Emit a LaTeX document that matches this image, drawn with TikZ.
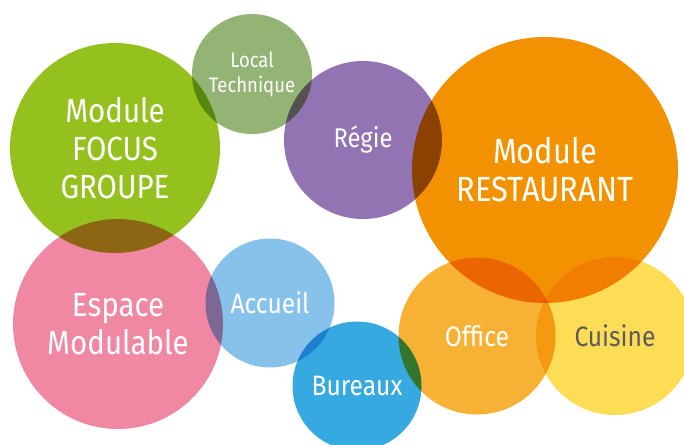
\documentclass[tikz,border=0pt]{standalone}
\usepackage{fontspec}
\setmainfont{Fira Sans}[FakeStretch=0.88]
\usepackage{xcolor}
\definecolor{vertFG}{HTML}{95C11F}
\definecolor{vertLT}{HTML}{93B475}
\definecolor{violetRG}{HTML}{9274B2}
\definecolor{orangeMR}{HTML}{F39200}
\definecolor{roseEM}{HTML}{F087A3}
\definecolor{bleuAC}{HTML}{86C2EA}
\definecolor{bleuBU}{HTML}{36A9E1}
\definecolor{orangeOF}{HTML}{F7B134}
\definecolor{jauneCU}{HTML}{FEDD56}
\definecolor{grisCU}{HTML}{5B5B5B}
\tikzset{
  bulle/.style={circle,inner sep=0pt,minimum size=#1},
  texte/.style={text=white,align=center,inner sep=0pt,
    font=\fontsize{28}{33}\selectfont},
  grand/.style={font=\fontsize{33.5}{38}\selectfont}
}
\begin{document}
\begin{tikzpicture}[x=1pt,y=-1pt]
  \useasboundingbox (0,0) rectangle (684,444);
  \clip (0,0) rectangle (684,444);
  % fixed points
  \coordinate (FG) at (115,148);
  \coordinate (LT) at (252,74);
  \coordinate (RG) at (363,140);
  \coordinate (MR) at (545,170);
  \coordinate (EM) at (118,324);
  \coordinate (AC) at (270,303);
  \coordinate (BU) at (357,386);
  \coordinate (OF) at (477,336);
  \coordinate (CU) at (615,336);
  % drawings
  \begin{scope}[blend group=multiply]
    \node[bulle=210pt,fill=vertFG] (cFG) at (FG) {};
    \node[bulle=120pt,fill=vertLT] (cLT) at (LT) {};
    \node[bulle=158pt,fill=violetRG] (cRG) at (RG) {};
    \node[bulle=266pt,fill=orangeMR] (cMR) at (MR) {};
    \node[bulle=210pt,fill=roseEM] (cEM) at (EM) {};
    \node[bulle=129pt,fill=bleuAC] (cAC) at (AC) {};
    \node[bulle=129pt,fill=bleuBU] (cBU) at (BU) {};
    \node[bulle=157pt,fill=orangeOF] (cOF) at (OF) {};
    \node[bulle=158pt,fill=jauneCU] (cCU) at (CU) {};
  \end{scope}
  % labelling
  \node[texte,grand] (tFG) at (FG) {Module\\FOCUS\\GROUPE};
  \node[texte,font=\fontsize{21}{25}\selectfont] (tLT) at (LT) {Local\\Technique};
  \node[texte,font=\fontsize{27}{31}\selectfont] (tRG) at (RG) {Régie};
  \node[texte,font=\fontsize{35}{38}\selectfont] (tMR) at (MR) {Module\\RESTAURANT};
  \node[texte,grand] (tEM) at (EM) {Espace\\Modulable};
  \node[texte] (tAC) at (AC) {Accueil};
  \node[texte] (tBU) at (BU) {Bureaux};
  \node[texte] (tOF) at (OF) {Office};
  \node[texte,text=grisCU] (tCU) at (CU) {Cuisine};
\end{tikzpicture}
\end{document}
